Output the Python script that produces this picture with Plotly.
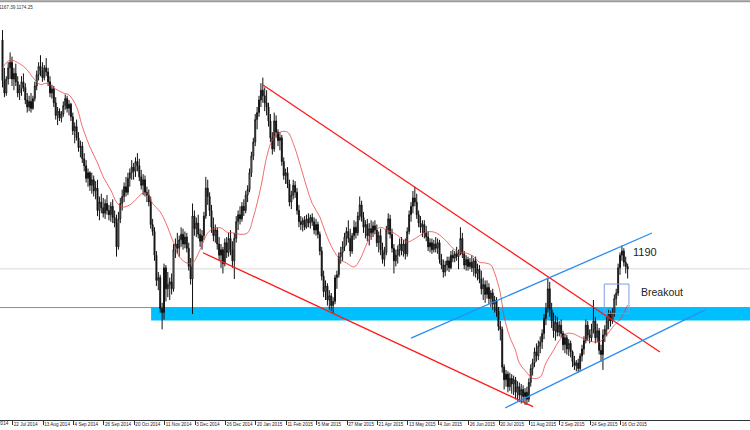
import plotly.graph_objects as go

# ---------------- daily OHLC (XAUUSD, Jul 2014 - Oct 2015) ----------------
opens = [
    1338,1309,1300,1310,1318,1322,1310,1314,1308,1300,
    1303,1308,1304,1295,1290,1294,1289,1296,1305,1313,
    1319,1316,1311,1318,1315,1308,1300,1303,1293,1284,
    1287,1282,1285,1291,1296,1289,1292,1283,1273,1276,
    1268,1261,1262,1253,1248,1239,1243,1234,1238,1230,
    1232,1216,1222,1218,1214,1221,1216,1213,1219,1211,
    1207,1190,1210,1221,1226,1233,1229,1239,1243,1247,
    1244,1251,1248,1240,1234,1238,1229,1227,1222,1206,
    1201,1184,1166,1168,1146,1143,1175,1160,1163,1165,
    1160,1188,1192,1189,1195,1199,1192,1197,1189,1176,
    1167,1212,1203,1207,1199,1194,1198,1212,1232,1226,
    1216,1204,1198,1202,1192,1184,1188,1178,1193,1186,
    1196,1188,1180,1196,1208,1213,1210,1219,1216,1227,
    1231,1243,1255,1265,1281,1286,1295,1302,1298,1293,
    1290,1280,1268,1260,1280,1272,1266,1268,1251,1241,
    1243,1235,1222,1227,1234,1229,1216,1208,1206,1209,
    1204,1210,1207,1211,1208,1202,1206,1199,1187,1169,
    1158,1162,1152,1155,1148,1151,1168,1170,1183,1186,
    1190,1197,1201,1196,1187,1198,1204,1200,1212,1220,
    1211,1204,1206,1198,1203,1200,1205,1202,1193,1198,
    1188,1181,1186,1202,1210,1199,1189,1180,1184,1188,
    1192,1187,1192,1185,1201,1213,1219,1225,1222,1213,
    1207,1204,1206,1200,1197,1190,1193,1188,1192,1189,
    1193,1181,1177,1172,1177,1180,1175,1184,1182,1185,
    1183,1186,1196,1185,1177,1181,1176,1179,1175,1180,
    1171,1174,1167,1160,1163,1156,1161,1153,1157,1149,
    1152,1144,1133,1131,1104,1095,1099,1090,1096,1092,
    1095,1086,1090,1084,1088,1083,1086,1081,1093,1103,
    1107,1115,1112,1119,1122,1128,1139,1146,1160,1145,
    1137,1130,1136,1129,1134,1128,1120,1125,1117,1121,
    1115,1108,1105,1107,1103,1112,1117,1123,1134,1127,
    1125,1131,1137,1125,1130,1116,1113,1127,1131,1137,
    1142,1137,1143,1153,1157,1175,1184,1187,1179,1176,
]
highs = [
    1345,1318,1312,1322,1329,1326,1318,1321,1312,1306,
    1312,1314,1307,1300,1298,1300,1298,1308,1316,1322,
    1327,1322,1320,1325,1318,1312,1306,1305,1297,1290,
    1289,1287,1294,1299,1298,1295,1293,1286,1279,1281,
    1272,1266,1265,1257,1252,1246,1244,1243,1241,1237,
    1238,1226,1228,1225,1224,1227,1220,1222,1224,1216,
    1213,1215,1225,1231,1236,1240,1243,1246,1252,1250,
    1254,1257,1253,1245,1242,1241,1233,1231,1226,1210,
    1204,1187,1172,1170,1150,1178,1177,1172,1168,1171,
    1192,1196,1200,1198,1204,1203,1201,1200,1193,1182,
    1221,1216,1211,1213,1203,1202,1215,1240,1238,1229,
    1220,1211,1206,1204,1197,1192,1190,1196,1197,1200,
    1202,1194,1200,1212,1216,1219,1222,1224,1230,1234,
    1246,1258,1268,1285,1290,1298,1307,1311,1304,1302,
    1293,1285,1272,1286,1284,1274,1272,1270,1254,1246,
    1247,1238,1230,1238,1237,1232,1220,1212,1211,1212,
    1213,1214,1213,1214,1211,1210,1208,1201,1190,1173,
    1166,1164,1159,1157,1154,1170,1173,1186,1190,1194,
    1200,1204,1209,1203,1200,1209,1208,1215,1226,1223,
    1215,1209,1210,1207,1209,1208,1209,1206,1201,1203,
    1193,1190,1205,1214,1213,1203,1192,1188,1191,1196,
    1197,1195,1196,1204,1216,1222,1230,1233,1228,1216,
    1212,1209,1209,1205,1201,1196,1196,1195,1197,1196,
    1195,1185,1181,1180,1183,1183,1187,1188,1187,1190,
    1188,1204,1200,1187,1184,1183,1182,1184,1182,1183,
    1178,1177,1173,1168,1166,1166,1164,1159,1160,1155,
    1154,1147,1137,1133,1106,1102,1101,1100,1099,1098,
    1097,1094,1093,1092,1091,1089,1090,1096,1106,1110,
    1118,1121,1123,1126,1131,1142,1150,1168,1165,1150,
    1143,1141,1140,1137,1138,1130,1128,1127,1124,1123,
    1116,1112,1109,1110,1114,1120,1126,1138,1137,1131,
    1135,1152,1140,1135,1132,1120,1131,1134,1140,1145,
    1144,1146,1156,1160,1178,1186,1191,1189,1183,1178,
]
lows = [
    1304,1297,1298,1306,1310,1305,1302,1305,1297,1295,
    1298,1301,1292,1286,1287,1286,1288,1294,1302,1309,
    1312,1308,1309,1312,1305,1297,1296,1290,1281,1277,
    1280,1279,1283,1288,1286,1284,1280,1270,1264,1266,
    1258,1254,1250,1244,1236,1233,1230,1228,1226,1224,
    1212,1209,1214,1211,1210,1213,1209,1208,1207,1204,
    1183,1188,1207,1216,1222,1226,1227,1233,1238,1238,
    1240,1244,1237,1231,1227,1226,1222,1219,1203,1198,
    1180,1162,1159,1143,1131,1138,1151,1154,1152,1156,
    1158,1182,1185,1183,1190,1188,1189,1186,1173,1163,
    1142,1198,1197,1196,1190,1188,1195,1210,1220,1212,
    1200,1194,1193,1188,1180,1175,1171,1176,1182,1183,
    1184,1175,1167,1193,1202,1206,1208,1212,1214,1222,
    1229,1240,1252,1262,1274,1283,1290,1293,1287,1284,
    1276,1265,1256,1258,1268,1262,1259,1248,1238,1235,
    1232,1219,1217,1224,1225,1213,1204,1202,1201,1202,
    1203,1204,1203,1205,1199,1198,1196,1184,1166,1154,
    1152,1148,1145,1144,1142,1149,1160,1168,1178,1180,
    1187,1191,1193,1183,1185,1195,1196,1198,1209,1208,
    1200,1196,1194,1191,1195,1197,1199,1190,1186,1184,
    1178,1176,1184,1199,1196,1186,1171,1176,1178,1183,
    1184,1183,1181,1183,1199,1208,1214,1219,1210,1204,
    1200,1197,1196,1194,1187,1186,1185,1186,1186,1185,
    1178,1174,1168,1169,1173,1172,1174,1179,1179,1180,
    1174,1184,1182,1174,1173,1173,1174,1172,1169,1168,
    1166,1164,1156,1152,1150,1153,1149,1147,1145,1143,
    1140,1130,1123,1100,1088,1090,1086,1087,1085,1084,
    1081,1080,1079,1078,1079,1077,1077,1079,1090,1098,
    1104,1108,1109,1114,1117,1124,1134,1143,1140,1132,
    1125,1123,1126,1126,1125,1116,1114,1113,1112,1111,
    1104,1102,1101,1100,1101,1108,1113,1121,1123,1121,
    1122,1128,1121,1122,1113,1108,1102,1122,1126,1131,
    1133,1135,1140,1148,1155,1170,1180,1176,1171,1167.39,
]
closes = [
    1309,1300,1310,1318,1322,1310,1314,1308,1300,1303,
    1308,1304,1295,1290,1294,1289,1296,1305,1313,1319,
    1316,1311,1318,1315,1308,1300,1303,1293,1284,1287,
    1282,1285,1291,1296,1289,1292,1283,1273,1276,1268,
    1261,1262,1253,1248,1239,1243,1234,1238,1230,1232,
    1216,1222,1218,1214,1221,1216,1213,1219,1211,1207,
    1190,1210,1221,1226,1233,1229,1239,1243,1247,1244,
    1251,1248,1240,1234,1238,1229,1227,1222,1206,1201,
    1184,1166,1168,1146,1143,1175,1160,1163,1165,1160,
    1188,1192,1189,1195,1199,1192,1197,1189,1176,1167,
    1212,1203,1207,1199,1194,1198,1212,1232,1226,1216,
    1204,1198,1202,1192,1184,1188,1178,1193,1186,1196,
    1188,1180,1196,1208,1213,1210,1219,1216,1227,1231,
    1243,1255,1265,1281,1286,1295,1302,1298,1293,1290,
    1280,1268,1260,1280,1272,1266,1268,1251,1241,1243,
    1235,1222,1227,1234,1229,1216,1208,1206,1209,1204,
    1210,1207,1211,1208,1202,1206,1199,1187,1169,1158,
    1162,1152,1155,1148,1151,1168,1170,1183,1186,1190,
    1197,1201,1196,1187,1198,1204,1200,1212,1220,1211,
    1204,1206,1198,1203,1200,1205,1202,1193,1198,1188,
    1181,1186,1202,1210,1199,1189,1180,1184,1188,1192,
    1187,1192,1185,1201,1213,1219,1225,1222,1213,1207,
    1204,1206,1200,1197,1190,1193,1188,1192,1189,1193,
    1181,1177,1172,1177,1180,1175,1184,1182,1185,1183,
    1186,1196,1185,1177,1181,1176,1179,1175,1180,1171,
    1174,1167,1160,1163,1156,1161,1153,1157,1149,1152,
    1144,1133,1131,1104,1095,1099,1090,1096,1092,1095,
    1086,1090,1084,1088,1083,1086,1081,1093,1103,1107,
    1115,1112,1119,1122,1128,1139,1146,1160,1145,1137,
    1130,1136,1129,1134,1128,1120,1125,1117,1121,1115,
    1108,1105,1107,1103,1112,1117,1123,1134,1127,1125,
    1131,1137,1125,1130,1116,1113,1127,1131,1137,1142,
    1137,1143,1153,1157,1175,1184,1187,1179,1176,1174.25,
]

# moving average (red thin line): bar index / price
ma_idx = [0,4,9,13,16,20,23,27,32,35,39,42,46,50,53,57,60,63,67,71,74,77,79,83,86,
          90,93,97,100,104,108,111,115,118,121,125,129,132,136,139,142,146,150,153,157,
          160,163,167,170,174,178,181,185,188,192,195,199,202,206,209,213,216,220,223,227,
          230,234,237,241,244,248,251,254,257,259,262,264,267,270,272,276,279,283,286,290,
          293,297,300,304,308,311,314,317,320,322,325,329]
ma_val = [1318,1323.5,1321,1316.5,1311,1306,1307,1303.6,1300,1298.6,1290,1276,1261.4,1250,1240,
          1230.6,1222,1218.5,1220,1225,1228.5,1227,1221,1215,1207,
          1193,1183,1178.5,1178.5,1188,1200,1203,1203.5,1200.6,1200,1199,1200,1211,1233,1254,
          1266.4,1272,1272,1264,1247,1233,1221,1211.4,1200,1188,1180.6,1178.5,1175.6,1180.6,
          1193,1200,1204,1202,1200,1197,1193.5,1195,1198.5,1200.6,1200.6,1198.5,1193.5,1189,
          1186,1185.6,1183,1179,1178.5,1177,1171.3,1157,1140,1125.5,1116,1107,1100,1096,1097,
          1107,1116,1123,1128,1128,1125.5,1123,1122,1122,1125.5,1130.5,1134,1138,1148.4]

# x-axis labels (bar index of each label tick)
tick_idx = [5.4,21.4,37.4,53.4,69.4,85.4,101.4,117.4,133.4,149.4,165.4,181.4,197.4,
            213.4,229.4,245.4,261.4,277.4,293.4,309.4,325.4]
tick_txt = ["22 Jul 2014","13 Aug 2014","4 Sep 2014","26 Sep 2014","20 Oct 2014",
            "11 Nov 2014","3 Dec 2014","26 Dec 2014","20 Jan 2015","11 Feb 2015",
            "5 Mar 2015","27 Mar 2015","21 Apr 2015","13 May 2015","4 Jun 2015",
            "26 Jun 2015","20 Jul 2015","11 Aug 2015","2 Sep 2015","24 Sep 2015",
            "16 Oct 2015"]
first_label = "30 Jun 2014"   # partly cut off at the left edge

# drawn objects (anchor points: bar index, price)
red_upper_x, red_upper_y = [137.1, 346.0], [1305.7, 1114.8]
red_lower_x, red_lower_y = [105.5, 279.2], [1185.8, 1075.7]
blue_upper_x, blue_upper_y = [215.0, 341.8], [1124.8, 1199.9]
blue_lower_x, blue_lower_y = [264.5, 369.7], [1074.8, 1144.9]
zone_start = 78.2
zone_price = [1137.3, 1146.6]
last_price = 1174.25
box_x, box_y = [316.7, 329.7], [1142.5, 1163.4]
label_1190 = (330.8, 1186.3)
label_breakout = (335.0, 1157.7)

x_range = [-1.32, 393.4]
y_range = [1066.2, 1366.5]

idx = list(range(len(closes)))

fig = go.Figure()

# support zone
fig.add_shape(type="rect", xref="x", yref="y", x0=zone_start, x1=x_range[1] + 5,
              y0=zone_price[0], y1=zone_price[1], fillcolor="#00BFFF",
              line=dict(width=0), layer="below")
fig.add_shape(type="line", xref="x", yref="y", x0=x_range[0] - 5, x1=x_range[1] + 5,
              y0=zone_price[1], y1=zone_price[1], line=dict(color="#3fa0ff", width=1), layer="below")
# current price line
fig.add_shape(type="line", xref="x", yref="y", x0=x_range[0] - 5, x1=x_range[1] + 5,
              y0=last_price, y1=last_price, line=dict(color="#d9d9d9", width=1), layer="below")

fig.add_trace(go.Candlestick(
    x=idx, open=opens, high=highs, low=lows, close=closes,
    increasing=dict(line=dict(color="#111111", width=1), fillcolor="#ffffff"),
    decreasing=dict(line=dict(color="#111111", width=1), fillcolor="#111111"),
    whiskerwidth=0, hoverinfo="skip"))

fig.add_trace(go.Scatter(x=ma_idx, y=ma_val, mode="lines",
                         line=dict(color="rgba(235,60,60,0.75)", width=1, shape="spline"),
                         hoverinfo="skip"))

for xs, ys, col in [(red_upper_x, red_upper_y, "#ff1a1a"), (red_lower_x, red_lower_y, "#ff1a1a"),
                    (blue_upper_x, blue_upper_y, "#2a8cf0"), (blue_lower_x, blue_lower_y, "#2a8cf0")]:
    fig.add_trace(go.Scatter(x=xs, y=ys, mode="lines", line=dict(color=col, width=1.3),
                             hoverinfo="skip"))

fig.add_shape(type="rect", xref="x", yref="y", x0=box_x[0], x1=box_x[1], y0=box_y[0], y1=box_y[1],
              line=dict(color="#7f9be0", width=1), fillcolor="rgba(0,0,0,0)")

fig.add_annotation(x=label_1190[0], y=label_1190[1], text="1190", showarrow=False,
                   xanchor="left", yanchor="middle",
                   font=dict(family="Liberation Sans, Arial", size=11, color="#222"))
fig.add_annotation(x=label_breakout[0], y=label_breakout[1], text="Breakout", showarrow=False,
                   xanchor="left", yanchor="middle",
                   font=dict(family="Liberation Sans, Arial", size=10.5, color="#222"))

# header values (top-left)
fig.add_annotation(xref="paper", yref="paper", x=-0.004, y=0.993, text="1167.39 1174.25",
                   showarrow=False, xanchor="left", yanchor="top",
                   font=dict(family="Liberation Sans, Arial", size=4.6, color="#333"))
# partly visible first date label
fig.add_annotation(xref="paper", yref="paper", x=-0.0255, y=-0.0095, text=first_label,
                   showarrow=False, xanchor="left", yanchor="middle",
                   font=dict(family="Liberation Sans, Arial", size=4.6, color="#222"))

# top frame line
fig.add_shape(type="line", xref="paper", yref="paper", x0=0, x1=1, y0=0.997, y1=0.997,
              line=dict(color="#9a9a9a", width=2))

fig.update_layout(
    width=750, height=430, margin=dict(l=0, r=0, t=0, b=10, autoexpand=False),
    paper_bgcolor="white", plot_bgcolor="white", showlegend=False,
    xaxis=dict(range=x_range, showgrid=False, zeroline=False, showline=True, automargin=False,
               linecolor="#333", linewidth=1, ticks="outside", ticklen=4, tickcolor="#333",
               tickvals=tick_idx, ticktext=tick_txt, ticklabelposition="outside right",
               tickangle=0, ticklabelstandoff=-1, ticklabeloverflow="allow",
               tickfont=dict(family="Liberation Sans, Arial", size=4.6, color="#222"),
               rangeslider=dict(visible=False), fixedrange=True),
    yaxis=dict(range=y_range, visible=False, fixedrange=True, automargin=False),
)

fig.write_html("out.html", config={"displayModeBar": False},
               post_script="document.body.style.margin='0';document.body.style.padding='0';"
                           "document.body.style.overflow='hidden';")
